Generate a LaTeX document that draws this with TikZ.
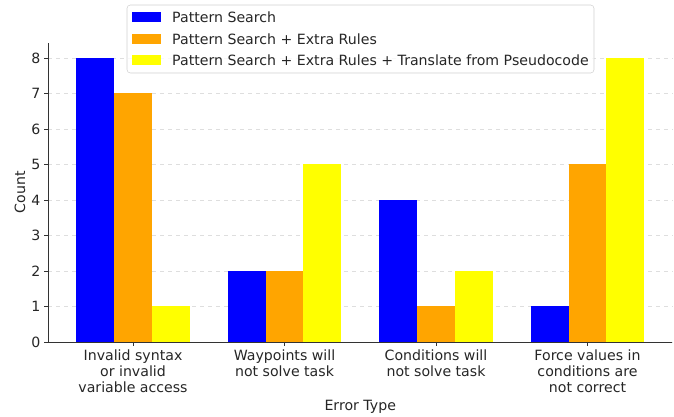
\documentclass[tikz,border=0pt]{standalone}
\usepackage{fontspec}
\setmainfont{DejaVu Sans}
\usetikzlibrary{positioning}
\definecolor{mplblue}{RGB}{0,0,255}
\definecolor{mplorange}{RGB}{255,165,0}
\definecolor{mplyellow}{RGB}{255,255,0}
\definecolor{gridgray}{gray}{0.87}
\definecolor{spinegray}{gray}{0.2}
\definecolor{framegray}{gray}{0.82}

\begin{document}
\begin{tikzpicture}[x=0.75pt, y=0.75pt, font=\fontsize{10.6}{12}\selectfont,
	ticklabel/.style={inner sep=0pt, text=black!85},
	legpatch/.style={minimum width=21.75pt, minimum height=7.5pt, inner sep=0pt},
	legtext/.style={inner sep=0pt, anchor=west, text=black!85}]
	\useasboundingbox (0,0) rectangle (674,417);
	\begin{scope}[shift={(133,75)}, x=113.625pt, y=26.625pt]
		% grid
		\foreach \k in {0,...,8}
			\draw[gridgray, dashed, very thin] (-0.561,\k) -- (3.558,\k);
		% bars
		\foreach \g/\a/\b/\c in {0/8/7/1, 1/2/2/5, 2/4/1/2, 3/1/5/8} {
			\fill[mplblue] (\g-0.375,0) rectangle (\g-0.125,\a);
			\fill[mplorange] (\g-0.125,0) rectangle (\g+0.125,\b);
			\fill[mplyellow] (\g+0.125,0) rectangle (\g+0.375,\c);
		}
		% spines
		\draw[spinegray, thin] (-0.561,8.42) -- (-0.561,0) -- (3.558,0);
		\foreach \k in {0,...,8}
			\draw[spinegray, thin] (-0.561,\k) -- ++(-3pt,0) node[ticklabel, left=2.5pt] (ytick\k) {\k};
		\foreach \g/\txt in {0/{Invalid syntax\\or invalid\\variable access},
				1/{Waypoints will\\not solve task},
				2/{Conditions will\\not solve task},
				3/{Force values in\\conditions are\\not correct}}
			\draw[spinegray, thin] (\g,0) -- ++(0,-3pt) node[ticklabel, below=2.5pt, align=center] (xtick\g) {\txt};
		% axis titles
		\node[ticklabel, rotate=90] (ylab) at (-0.746,4.22) {Count};
		\node[ticklabel] (xlab) at (1.5,-1.83) {Error Type};
	\end{scope}
	% legend
	\draw[framegray, fill=white, fill opacity=0.8, rounded corners=2.5pt] (127,344) rectangle (594,412);
	\node[legpatch, fill=mplblue] (legA) at (146.5,400) {};
	\node[legpatch, fill=mplorange] (legB) at (146.5,378) {};
	\node[legpatch, fill=mplyellow] (legC) at (146.5,357) {};
	\node[legtext, right=8pt of legA] (txtA) {Pattern Search};
	\node[legtext, right=8pt of legB] (txtB) {Pattern Search + Extra Rules};
	\node[legtext, right=8pt of legC] (txtC) {Pattern Search + Extra Rules + Translate from Pseudocode};
\end{tikzpicture}
\end{document}
